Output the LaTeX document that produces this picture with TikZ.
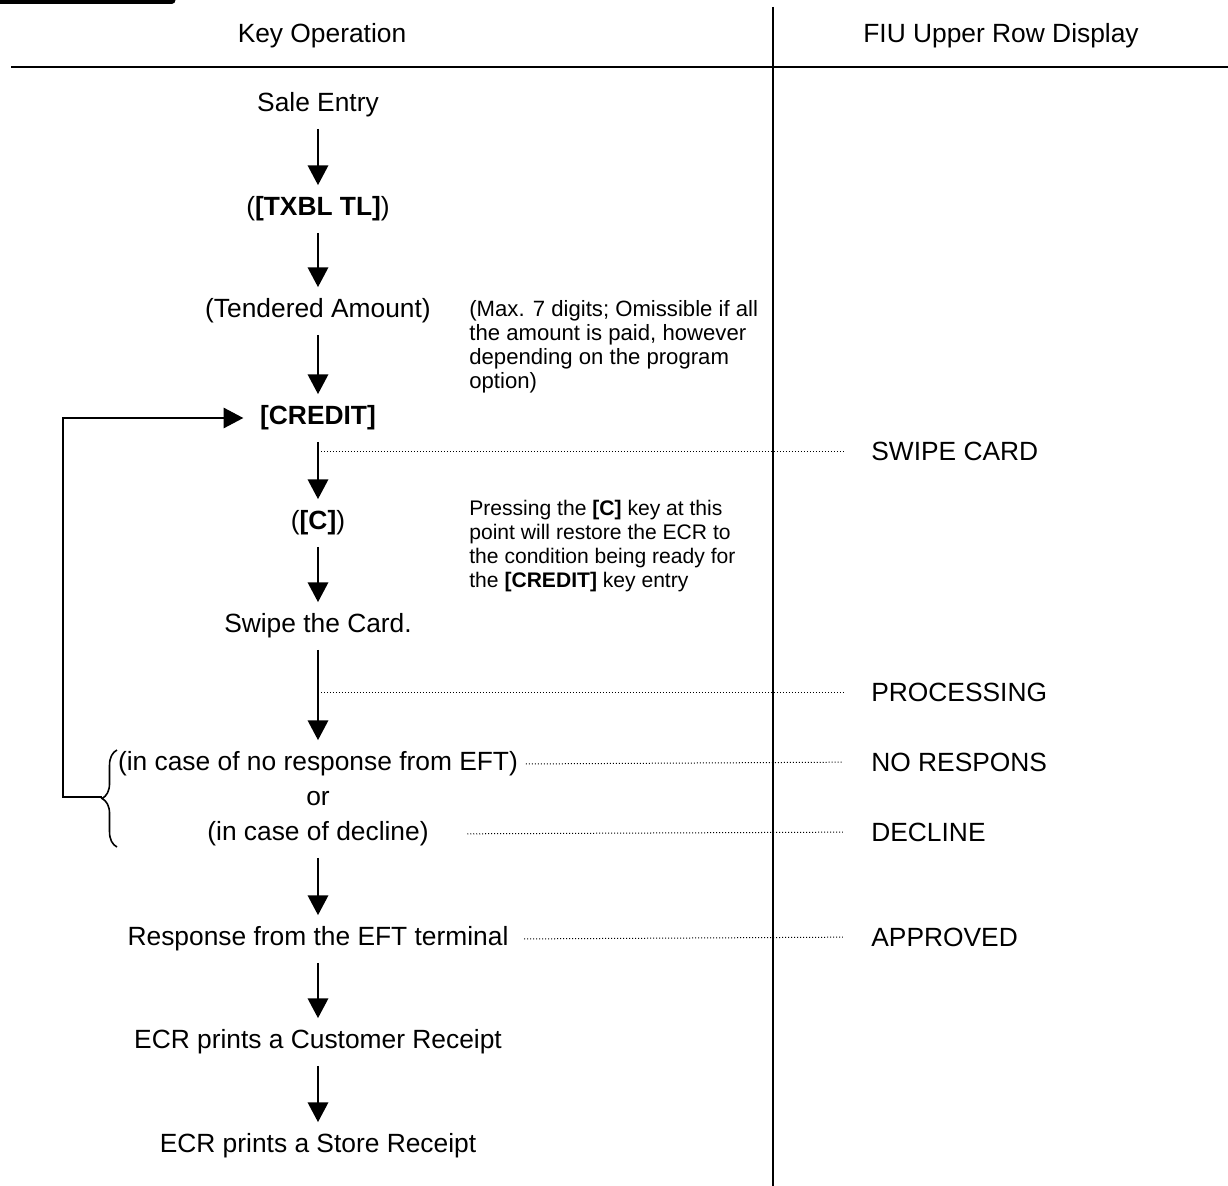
\documentclass[tikz,border=0pt]{standalone}
\usepackage{fontspec}
\setmainfont{Liberation Sans}
\usetikzlibrary{arrows.meta,calc,decorations.pathreplacing}
\newcommand{\K}[1]{\textbf{#1}}
\tikzset{
  stp/.style={font=\fontsize{15}{18}\selectfont, inner xsep=0pt, inner ysep=6.1pt,
    text height=11.2pt, text depth=3.8pt, outer sep=0pt},
  disp/.style={font=\fontsize{15}{18}\selectfont, anchor=west, inner sep=0pt},
  hdr/.style={font=\fontsize{15}{18}\selectfont},
  note/.style={align=left, anchor=north west, inner sep=0pt},
  farr/.style={-{Triangle[length=11.2pt, width=11.6pt]}, line width=1.1pt},
  dots/.style={line width=0.57pt, dash pattern=on 0.569pt off 1.138pt},
  rule/.style={line width=1.6pt},
  brc/.style={decorate, decoration={brace, amplitude=8.5pt}, line width=0.9pt},
}

\begin{document}
\begin{tikzpicture}[x=0.02cm,y=-0.02cm]
\useasboundingbox (0,0) rectangle (1228,1186);
\draw[line width=4pt, line cap=round] (-5,0) -- (172,0);
\draw[rule] (11,67) -- (1228,67);
\draw[line width=1.4pt] (773,7) -- (773,1186);
\node[hdr] (hkey) at (322,36) {Key Operation};
\node[hdr] (hfiu) at (1001,36) {FIU Upper Row Display};

\node[stp] (sale) at (318,105) {Sale Entry};
\node[stp] (txbl) at (318,209) {(\K{[TXBL TL]})};
\node[stp] (tend) at (318,311) {(Tendered Amount)};
\node[stp] (credit) at (318,418) {\K{[CREDIT]}};
\node[stp] (cc) at (318,523) {(\K{[C]})};
\node[stp] (swipe) at (318,626) {Swipe the Card.};
\node[stp] (nores) at (318,764) {(in case of no response from EFT)};
\node[stp] (or) at (318,799) {or};
\node[stp] (decl) at (318,834) {(in case of decline)};
\node[stp] (resp) at (318,939) {Response from the EFT terminal};
\node[stp] (cust) at (318,1042) {ECR prints a Customer Receipt};
\node[stp] (store) at (318,1146) {ECR prints a Store Receipt};

\node[note, font=\fontsize{12.6}{13.6}\selectfont] (nmax) at (469,300)
  {(Max. 7 digits; Omissible if all\\the amount is paid, however\\depending on the program\\option)};
\node[note, font=\fontsize{12}{13.6}\selectfont] (nclr) at (469,500)
  {Pressing the \K{[C]} key at this\\point will restore the ECR to\\the condition being ready for\\the \K{[CREDIT]} key entry};

\node[disp] (sw) at (871,451) {SWIPE CARD};
\node[disp] (proc) at (871,692) {PROCESSING};
\node[disp] (nr) at (871,762) {NO RESPONS};
\node[disp] (dec) at (871,832) {DECLINE};
\node[disp] (apr) at (871,937) {APPROVED};

\draw[farr] (sale) -- (txbl);
\draw[farr] (txbl) -- (tend);
\draw[farr] (tend) -- (credit);
\draw[farr] (credit) -- (cc);
\draw[farr] (cc) -- (swipe);
\draw[farr] (swipe) -- (nores);
\draw[farr] (decl) -- (resp);
\draw[farr] (resp) -- (cust);
\draw[farr] (cust) -- (store);

\draw[dots, shorten >=16pt] (credit.south |- sw.west) -- (sw.west);
\draw[dots, shorten >=16pt] (swipe.south |- proc.west) -- (proc.west);
\draw[dots, shorten <=4.5pt, shorten >=16pt] (nores.east) -- (nr.west);
\draw[dots, shorten <=22pt, shorten >=16pt] (decl.east) -- (dec.west);
\draw[dots, shorten <=9pt, shorten >=16pt] (resp.east) -- (apr.west);

\coordinate (bbot) at (117,847);
\coordinate (btop) at (117,750);
\coordinate (btip) at (102,797);
\coordinate (bk) at (63,797);
\draw[brc] (bbot) -- (btop);
\draw[farr, line width=0.9pt, shorten >=9.6pt] (btip) -- (bk) |- (credit.west);
\end{tikzpicture}
\end{document}
